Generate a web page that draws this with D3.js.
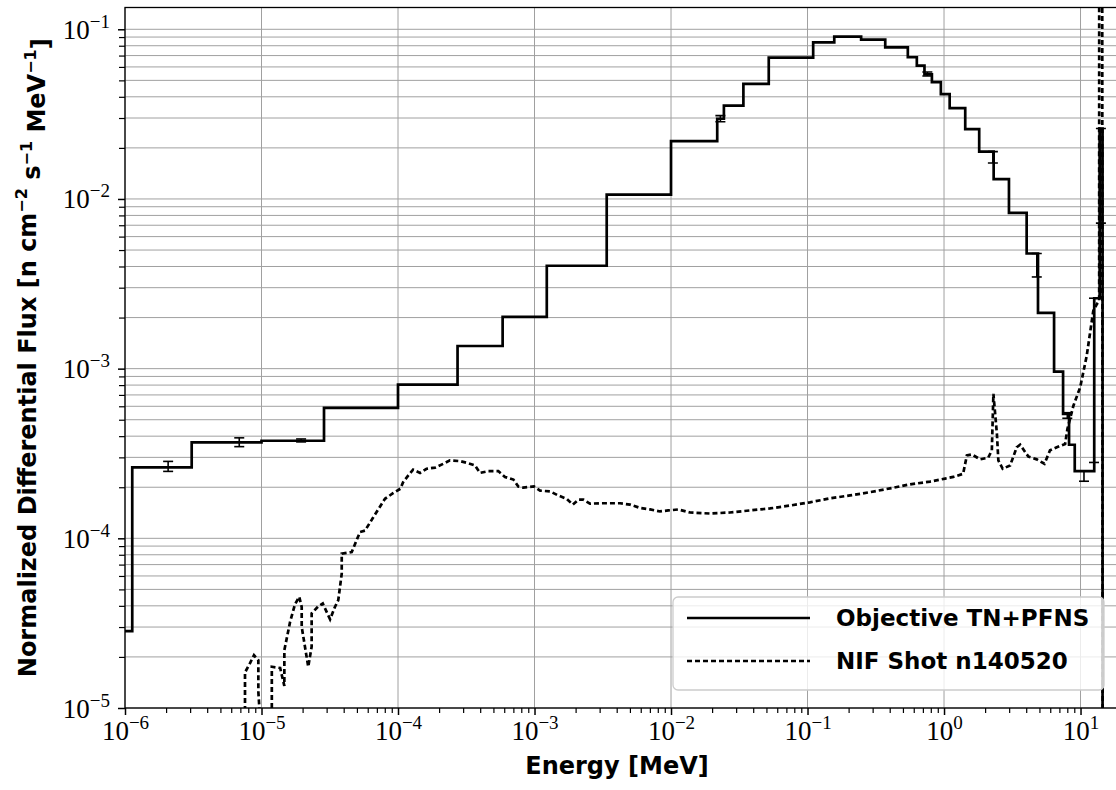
<!DOCTYPE html>
<html>
<head>
<meta charset="utf-8">
<script src="https://cdn.jsdelivr.net/npm/d3@7"></script>
<style>
    body { margin: 0; background: #fff; }
    svg { display: block; }
    .tick-serif { font-family: "Liberation Serif", serif; }
    .bold-sans { font-family: "DejaVu Sans", sans-serif; font-weight: bold; }
</style>
</head>
<body>
<div class="canvas"></div>

<script>
// group structure of the objective spectrum (MeV) and its flux per bin
const groupEdges = [1e-6, 1.13e-6, 3.08e-6, 1.0e-5, 2.87e-5, 1.0e-4, 2.73e-4, 5.84e-4, 1.23e-3, 3.38e-3,
    1.0e-2, 2.18e-2, 2.44e-2, 3.39e-2, 5.2e-2, 0.110, 0.157, 0.247, 0.371, 0.543, 0.632, 0.719, 0.815,
    0.948, 1.10, 1.43, 1.81, 2.31, 2.99, 4.03, 4.88, 6.40, 7.45, 8.24, 9.07, 12.6, 13.8, 14.5, 18.5];
const groupFlux = [2.84e-5, 2.62e-4, 3.68e-4, 3.76e-4, 5.87e-4, 8.06e-4, 1.36e-3, 2.02e-3, 4.04e-3,
    1.06e-2, 2.19e-2, 2.97e-2, 3.55e-2, 4.77e-2, 6.81e-2, 8.38e-2, 9.05e-2, 8.69e-2, 7.83e-2, 6.84e-2,
    6.11e-2, 5.43e-2, 4.88e-2, 4.15e-2, 3.43e-2, 2.58e-2, 1.90e-2, 1.31e-2, 8.28e-3, 4.77e-3, 2.13e-3,
    9.6e-4, 5.42e-4, 3.56e-4, 2.49e-4, 2.6e-3, 2.6e-2, 1e-8];

// uncertainty bars on the objective spectrum
const errEnergy = [2.07e-6, 6.87e-6, 1.95e-5, 2.3e-2, 0.755, 2.28, 4.78, 8.0, 10.6, 12.55, 14.1];
const errLow = [2.48e-4, 3.47e-4, 3.70e-4, 2.85e-2, 5.3e-2, 1.63e-2, 3.47e-3, 5.1e-4, 2.17e-4, 2.8e-4, 7.2e-3];
const errHigh = [2.84e-4, 3.91e-4, 3.85e-4, 3.1e-2, 5.6e-2, 1.9e-2, 4.77e-3, 5.5e-4, 2.49e-4, 2.6e-3, 2.6e-2];

// NIF shot n140520 spectrum
const nifEnergy = [7.57e-6, 7.57e-6, 8.24e-6, 8.81e-6, 9.48e-6, 9.48e-6, 1.02e-5, 1.19e-5, 1.19e-5, 1.37e-5,
    1.47e-5, 1.47e-5, 1.62e-5, 1.76e-5, 1.89e-5, 1.97e-5, 1.97e-5, 2.20e-5, 2.33e-5, 2.33e-5, 2.61e-5,
    2.81e-5, 3.18e-5, 3.45e-5, 3.65e-5, 3.87e-5, 3.87e-5, 4.58e-5, 5.27e-5, 5.73e-5, 6.59e-5, 8.03e-5,
    9.25e-5, 1.04e-4, 1.09e-4, 1.19e-4, 1.29e-4, 1.45e-4, 1.62e-4, 1.87e-4, 2.15e-4, 2.40e-4, 2.85e-4,
    3.27e-4, 3.66e-4, 3.99e-4, 4.59e-4, 5.43e-4, 6.08e-4, 7.0e-4, 7.61e-4, 8.28e-4, 9.91e-4, 1.10e-3,
    1.30e-3, 1.49e-3, 1.72e-3, 1.91e-3, 2.10e-3, 2.28e-3, 2.55e-3, 3.02e-3, 3.57e-3, 4.23e-3, 5.01e-3,
    5.93e-3, 7.02e-3, 8.30e-3, 9.55e-3, 1.13e-2, 1.38e-2, 1.93e-2, 2.70e-2, 3.79e-2, 5.31e-2, 7.44e-2,
    0.104, 0.146, 0.205, 0.287, 0.402, 0.563, 0.789, 1.02, 1.17, 1.38, 1.47, 1.60, 1.84, 2.11, 2.24,
    2.30, 2.44, 2.50, 2.69, 3.05, 3.41, 3.61, 4.15, 4.78, 5.44, 5.98, 6.70, 7.71, 8.02, 8.87, 9.94,
    11.1, 12.4, 13.2, 13.7, 13.7, 14.4, 14.6];
const nifFlux = [5e-6, 1.62e-5, 1.84e-5, 2.05e-5, 1.91e-5, 1.25e-5, 5e-6, 5e-6, 1.75e-5, 1.72e-5,
    1.35e-5, 2.19e-5, 3.22e-5, 4.09e-5, 4.52e-5, 3.94e-5, 3.01e-5, 1.75e-5, 2.30e-5, 3.61e-5, 3.98e-5,
    4.13e-5, 3.33e-5, 3.94e-5, 4.32e-5, 6.19e-5, 8.13e-5, 8.30e-5, 1.09e-4, 1.11e-4, 1.33e-4, 1.71e-4,
    1.85e-4, 1.96e-4, 2.14e-4, 2.35e-4, 2.54e-4, 2.43e-4, 2.57e-4, 2.61e-4, 2.75e-4, 2.88e-4, 2.85e-4,
    2.77e-4, 2.69e-4, 2.43e-4, 2.49e-4, 2.49e-4, 2.30e-4, 2.22e-4, 2.02e-4, 1.99e-4, 2.02e-4, 1.91e-4,
    1.89e-4, 1.79e-4, 1.71e-4, 1.58e-4, 1.69e-4, 1.69e-4, 1.60e-4, 1.61e-4, 1.61e-4, 1.61e-4, 1.58e-4,
    1.51e-4, 1.48e-4, 1.44e-4, 1.46e-4, 1.48e-4, 1.42e-4, 1.40e-4, 1.42e-4, 1.46e-4, 1.50e-4, 1.56e-4,
    1.63e-4, 1.72e-4, 1.79e-4, 1.87e-4, 1.97e-4, 2.08e-4, 2.16e-4, 2.25e-4, 2.30e-4, 2.40e-4, 3.08e-4,
    3.12e-4, 2.92e-4, 2.99e-4, 3.30e-4, 7.10e-4, 4.13e-4, 2.88e-4, 2.57e-4, 2.69e-4, 3.44e-4, 3.56e-4,
    3.03e-4, 2.92e-4, 2.75e-4, 3.30e-4, 3.44e-4, 3.60e-4, 4.42e-4, 6.05e-4, 7.76e-4, 1.19e-3, 2.19e-3,
    2.41e-3, 2.5e-3, 1.0, 1.0, 1e-8];

const xDecades = [1e-6, 1e-5, 1e-4, 1e-3, 1e-2, 1e-1, 1, 10];
const xExponents = ["−6", "−5", "−4", "−3", "−2", "−1", "0", "1"];
const yDecades = [1e-5, 1e-4, 1e-3, 1e-2, 1e-1];
const yExponents = ["−5", "−4", "−3", "−2", "−1"];
const legendLabels = ["Objective TN+PFNS", "NIF Shot n140520"];

(function () {
    const width = 1116;
    const height = 790;
    const margin = { left: 125, top: 7.5, right: 1117, bottom: 708 };
    const X_MIN = 1e-6, X_MAX = 18.5;
    const Y_MIN = 1e-5, Y_MAX = 0.1344;

    const svg = d3.select(".canvas").append("svg")
        .attr("width", width)
        .attr("height", height);

    const x = d3.scaleLog().domain([X_MIN, X_MAX]).range([margin.left, margin.right]);
    const y = d3.scaleLog().domain([Y_MIN, Y_MAX]).range([margin.bottom, margin.top]);

    // minor values for each decade
    function minors(lo, hi) {
        const out = [];
        for (let e = Math.floor(Math.log10(lo)); e <= Math.ceil(Math.log10(hi)); e++) {
            for (let m = 2; m <= 9; m++) {
                const v = m * Math.pow(10, e);
                if (v > lo && v < hi) out.push(v);
            }
        }
        return out;
    }
    const xMinor = minors(X_MIN, X_MAX);
    const yMinor = minors(Y_MIN, Y_MAX);

    svg.append("defs").append("clipPath").attr("id", "plotclip")
        .append("rect")
        .attr("x", margin.left).attr("y", margin.top)
        .attr("width", margin.right - margin.left)
        .attr("height", margin.bottom - margin.top);

    // grid
    const grid = svg.append("g").attr("class", "grid");
    grid.selectAll("line.hy").data(yDecades.concat(yMinor)).enter().append("line")
        .attr("x1", margin.left).attr("x2", margin.right)
        .attr("y1", d => y(d)).attr("y2", d => y(d))
        .attr("stroke", "#a0a0a0").attr("stroke-width", 1);
    grid.selectAll("line.vx").data(xDecades).enter().append("line")
        .attr("y1", margin.top).attr("y2", margin.bottom)
        .attr("x1", d => x(d)).attr("x2", d => x(d))
        .attr("stroke", "#a0a0a0").attr("stroke-width", 1);

    const plot = svg.append("g").attr("clip-path", "url(#plotclip)");

    // NIF dashed spectrum
    const nifPts = nifEnergy.map((e, i) => [e, nifFlux[i]]);
    plot.append("path")
        .datum(nifPts)
        .attr("fill", "none")
        .attr("stroke", "#000")
        .attr("stroke-width", 2.7)
        .attr("stroke-dasharray", "5,3")
        .attr("d", d3.line().x(d => x(d[0])).y(d => y(d[1])));

    // objective group spectrum as steps
    const stepPts = groupFlux.map((f, i) => [groupEdges[i], f]);
    stepPts.push([groupEdges[groupEdges.length - 1], groupFlux[groupFlux.length - 1]]);
    plot.append("path")
        .datum(stepPts)
        .attr("fill", "none")
        .attr("stroke", "#000")
        .attr("stroke-width", 2.7)
        .attr("d", d3.line().curve(d3.curveStepAfter).x(d => x(d[0])).y(d => y(d[1])));

    // error bars
    const CAP = 5;
    const eb = plot.selectAll("g.err").data(errEnergy).enter().append("g")
        .attr("stroke", "#000").attr("stroke-width", 1.6);
    eb.append("line")
        .attr("x1", d => x(d)).attr("x2", d => x(d))
        .attr("y1", (d, i) => y(errLow[i])).attr("y2", (d, i) => y(errHigh[i]));
    eb.append("line")
        .attr("x1", d => x(d) - CAP).attr("x2", d => x(d) + CAP)
        .attr("y1", (d, i) => y(errLow[i])).attr("y2", (d, i) => y(errLow[i]));
    eb.append("line")
        .attr("x1", d => x(d) - CAP).attr("x2", d => x(d) + CAP)
        .attr("y1", (d, i) => y(errHigh[i])).attr("y2", (d, i) => y(errHigh[i]));

    // axes
    function supLabels(sel, exps, vals) {
        sel.selectAll(".tick text").each(function (d) {
            const t = d3.select(this);
            const i = vals.indexOf(d);
            t.text(null).attr("class", "tick-serif").attr("fill", "#000");
            t.append("tspan").style("font-size", "27px").text("10");
            t.append("tspan").style("font-size", "19px").attr("dy", "-11").text(exps[i]);
        });
    }

    const xAxis = svg.append("g")
        .attr("transform", "translate(0," + margin.bottom + ")")
        .call(d3.axisBottom(x).tickValues(xDecades).tickSize(7).tickPadding(6));
    supLabels(xAxis, xExponents, xDecades);
    xAxis.selectAll(".tick text").attr("y", 32).attr("dy", 0);
    xAxis.selectAll(".tick line").attr("stroke-width", 1.5);
    xAxis.select(".domain").remove();
    svg.append("g")
        .attr("transform", "translate(0," + margin.bottom + ")")
        .call(d3.axisBottom(x).tickValues(xMinor).tickSize(5).tickFormat(""))
        .call(g => g.select(".domain").remove())
        .selectAll(".tick line").attr("stroke-width", 1.2);

    const yAxis = svg.append("g")
        .attr("transform", "translate(" + margin.left + ",0)")
        .call(d3.axisLeft(y).tickValues(yDecades).tickSize(7).tickPadding(8));
    supLabels(yAxis, yExponents, yDecades);
    yAxis.selectAll(".tick text").attr("dy", 9);
    yAxis.selectAll(".tick line").attr("stroke-width", 1.5);
    yAxis.select(".domain").remove();
    svg.append("g")
        .attr("transform", "translate(" + margin.left + ",0)")
        .call(d3.axisLeft(y).tickValues(yMinor).tickSize(6).tickFormat(""))
        .call(g => g.select(".domain").remove())
        .selectAll(".tick line").attr("stroke-width", 1.2);

    // frame
    svg.append("rect")
        .attr("x", margin.left).attr("y", margin.top)
        .attr("width", margin.right - margin.left)
        .attr("height", margin.bottom - margin.top)
        .attr("fill", "none").attr("stroke", "#000").attr("stroke-width", 1.3);

    // axis titles
    svg.append("text")
        .attr("class", "bold-sans")
        .attr("x", 617).attr("y", 774)
        .attr("text-anchor", "middle")
        .style("font-size", "24px")
        .text("Energy [MeV]");

    const yl = svg.append("text")
        .attr("class", "bold-sans")
        .attr("transform", "translate(36," + ((margin.top + margin.bottom) / 2) + ") rotate(-90)")
        .attr("text-anchor", "middle")
        .style("font-size", "24px");
    yl.append("tspan").text("Normalized Differential Flux [n cm");
    yl.append("tspan").attr("dy", "-0.55em").style("font-size", "16px").text("−2");
    yl.append("tspan").attr("dy", "0.55em").text(" s");
    yl.append("tspan").attr("dy", "-0.55em").style("font-size", "16px").text("−1");
    yl.append("tspan").attr("dy", "0.55em").text(" MeV");
    yl.append("tspan").attr("dy", "-0.55em").style("font-size", "16px").text("−1");
    yl.append("tspan").attr("dy", "0.55em").text("]");

    // legend
    const lg = svg.append("g");
    lg.append("rect")
        .attr("x", 673).attr("y", 597).attr("width", 431).attr("height", 93)
        .attr("rx", 5)
        .attr("fill", "#fff").attr("fill-opacity", 0.8)
        .attr("stroke", "#cccccc").attr("stroke-width", 1.3);
    const rowsY = [618, 661];
    legendLabels.forEach(function (lab, i) {
        lg.append("line")
            .attr("x1", 687).attr("x2", 810)
            .attr("y1", rowsY[i]).attr("y2", rowsY[i])
            .attr("stroke", "#000").attr("stroke-width", 2.7)
            .attr("stroke-dasharray", i === 1 ? "5,3" : null);
        lg.append("text")
            .attr("class", "bold-sans")
            .attr("x", 836).attr("y", rowsY[i] + 8)
            .style("font-size", "23px")
            .text(lab);
    });
})();
</script>
</body>
</html>
